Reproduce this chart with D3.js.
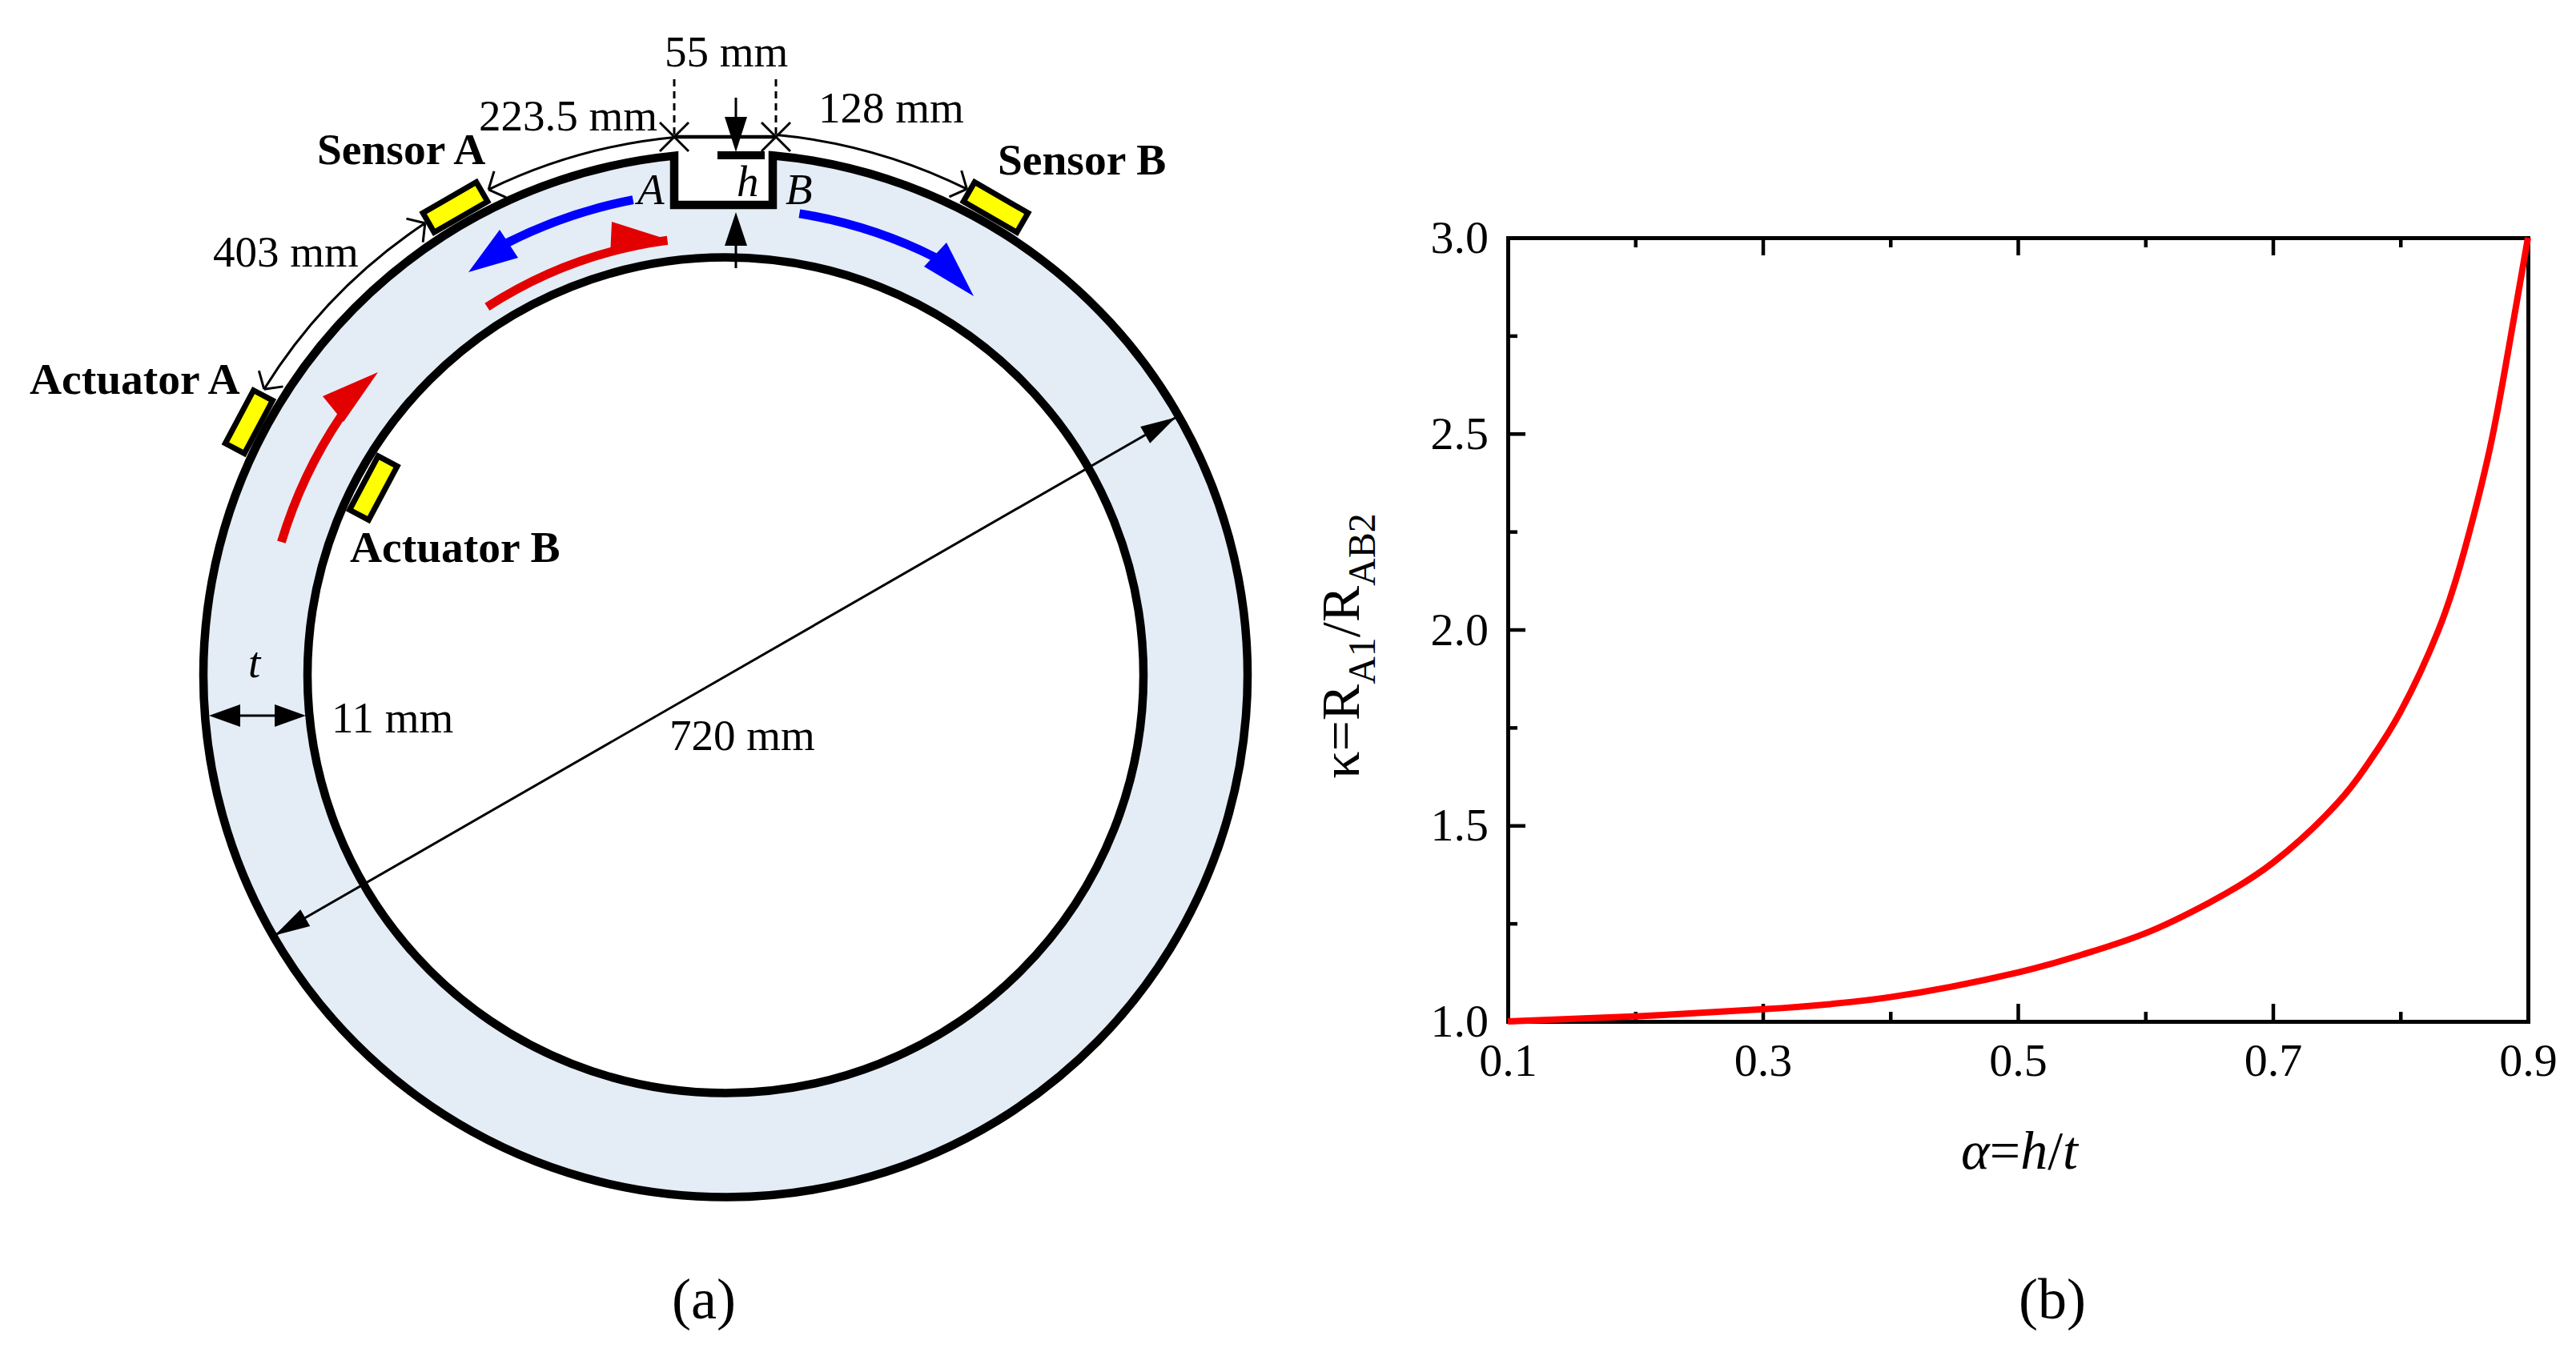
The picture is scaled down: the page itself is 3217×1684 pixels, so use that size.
<!DOCTYPE html>
<html>
<head>
<meta charset="utf-8">
<title>Ring and curve</title>
<script src="https://cdn.jsdelivr.net/npm/d3@7/dist/d3.min.js"></script>
<style>
  body { margin: 0; background: #fff; }
  text { font-family: "Liberation Serif", serif; fill: #000; }
</style>
</head>
<body>
<div id="app"></div>
<script>
// values
const alphaValues = [0.1, 0.2, 0.3, 0.4, 0.5, 0.55, 0.6, 0.65, 0.7, 0.75, 0.775, 0.8, 0.83, 0.85, 0.87, 0.885, 0.9];
const kappaValues = [1, 1.013, 1.031, 1.062, 1.125, 1.17, 1.225, 1.303, 1.405, 1.555, 1.66, 1.79, 2, 2.2, 2.46, 2.72, 3];
const xMajor = [0.1, 0.3, 0.5, 0.7, 0.9];
const xMinor = [0.2, 0.4, 0.6, 0.8];
const yMajor = [1, 1.5, 2, 2.5, 3];
const yMinor = [1.25, 1.75, 2.25, 2.75];

const W = 3217, H = 1684;
const svg = d3.select("#app").append("svg").attr("width", W).attr("height", H).style("display", "block");

// ---------- panel (a): ring diagram ----------
const cx = 906, cy = 843.5, rOuter = 652, rInner = 522;
const notch = { left: 842, right: 965, bottom: 256 };
const rad = (d) => (d - 90) * Math.PI / 180;
const polar = (r, deg) => [cx + r * Math.cos(rad(deg)), cy + r * Math.sin(rad(deg))];
const g = svg.append("g");

function arcPath(r, a0, a1) {
    const p = d3.path();
    p.arc(cx, cy, r, rad(a0), rad(a1), a1 < a0);
    return p.toString();
}

function notchTop(x) { return cy - Math.sqrt(rOuter * rOuter - (x - cx) * (x - cx)); }

const ring = d3.path();
ring.moveTo(notch.left, notchTop(notch.left));
ring.lineTo(notch.left, notch.bottom);
ring.lineTo(notch.right, notch.bottom);
ring.lineTo(notch.right, notchTop(notch.right));
ring.arc(cx, cy, rOuter, Math.atan2(notchTop(notch.right) - cy, notch.right - cx), Math.atan2(notchTop(notch.left) - cy, notch.left - cx));
ring.closePath();

g.append("path").attr("d", ring.toString()).attr("fill", "#e4ecf6").attr("stroke", "#000").attr("stroke-width", 10.5).attr("stroke-linejoin", "miter");
g.append("circle").attr("cx", cx).attr("cy", cy).attr("r", rInner).attr("fill", "#fff").attr("stroke", "#000").attr("stroke-width", 10.5);

// yellow patches
const patches = [
    { r: 675, deg: -30, w: 77, h: 28 },
    { r: 675, deg: 30, w: 77, h: 28 },
    { r: 674, deg: -62, w: 75, h: 27 },
    { r: 498, deg: -62, w: 76, h: 27 }
];
patches.forEach((s) => {
    const c = polar(s.r, s.deg);
    g.append("rect")
        .attr("x", -s.w / 2).attr("y", -s.h / 2)
        .attr("width", s.w).attr("height", s.h)
        .attr("transform", "translate(" + c[0] + "," + c[1] + ") rotate(" + s.deg + ")")
        .attr("fill", "#ffff00").attr("stroke", "#000").attr("stroke-width", 7);
});

// wave paths
const waves = [
    { color: "#e30000", r: 579, a0: -73.3, a1: -56, head: [[403, 495], [429, 527], [472, 465]] },
    { color: "#e30000", r: 548, a0: -32.9, a1: -7.6, head: [[764, 277], [762, 320], [830, 298]] },
    { color: "#0000ff", r: 605, a0: -11, a1: -26.8, head: [[624, 287], [647, 322], [585, 340]] },
    { color: "#0000ff", r: 584, a0: 9.1, a1: 26.6, head: [[1182, 303], [1154, 333], [1216, 370]] }
];
waves.forEach((w) => {
    g.append("path").attr("d", arcPath(w.r, w.a0, w.a1)).attr("fill", "none").attr("stroke", w.color).attr("stroke-width", 11);
    g.append("polygon").attr("points", w.head.map((p) => p.join(",")).join(" ")).attr("fill", w.color);
});

function line(a, b, width, dash) {
    g.append("line")
        .attr("x1", a[0]).attr("y1", a[1]).attr("x2", b[0]).attr("y2", b[1])
        .attr("stroke", "#000").attr("stroke-width", width)
        .attr("stroke-dasharray", dash || null);
}

// solid arrow head with its tip at `tip`, opening back toward `from`
function head(tip, from, len, hw) {
    const a = Math.atan2(from[1] - tip[1], from[0] - tip[0]);
    const bx = tip[0] + len * Math.cos(a), by = tip[1] + len * Math.sin(a);
    const nx = -Math.sin(a) * hw, ny = Math.cos(a) * hw;
    g.append("polygon")
        .attr("points", [tip, [bx + nx, by + ny], [bx - nx, by - ny]].map((p) => p.join(",")).join(" "))
        .attr("fill", "#000");
}

// open barbs of the thin arc dimensions
function barbs(tip, toward, len) {
    const a = Math.atan2(toward[1] - tip[1], toward[0] - tip[0]);
    [-0.85, 0.85].forEach((d) => {
        line(tip, [tip[0] + len * Math.cos(a + d), tip[1] + len * Math.sin(a + d)], 3);
    });
}

// arc dimensions over the outer edge
const dimArcs = [
    { r: 675, a0: -5.4, a1: -26 },
    { r: 678, a0: -33.6, a1: -58.2 },
    { r: 678, a0: 5.4, a1: 26.4 }
];
dimArcs.forEach((d) => {
    g.append("path").attr("d", arcPath(d.r, d.a0, d.a1)).attr("fill", "none").attr("stroke", "#000").attr("stroke-width", 3);
    const step = d.a1 > d.a0 ? -3 : 3;
    barbs(polar(d.r, d.a1), polar(d.r, d.a1 + step), 24);
});
barbs(polar(678, -33.6), polar(678, -36.6), 24);

// notch width markers
const markY = 171;
[842, 969].forEach((x) => {
    line([x, markY - 72], [x, markY], 3, "9 6");
    line([x - 18, markY - 18], [x + 18, markY + 18], 3);
    line([x - 18, markY + 18], [x + 18, markY - 18], 3);
});
line([842, markY], [969, markY], 4.5);

// depth h markers
const hx = 919;
line([hx, 122], [hx, 160], 3);
head([hx, 190], [hx, 122], 44, 14);
line([hx - 23, 194], [hx + 36, 194], 10);
line([hx, 300], [hx, 335], 3);
head([hx, 265], [hx, 335], 42, 14);

// thickness t
line([290, 894], [350, 894], 3);
head([261, 894], [382, 894], 39, 14);
head([382, 894], [261, 894], 39, 14);

// diameter
const dTop = polar(648, 60.2), dBottom = polar(650, 240);
line(dTop, dBottom, 3);
head(dTop, dBottom, 44, 12);
head(dBottom, dTop, 44, 12);

// diagram text
const labels = [
    { t: "55 mm", x: 830, y: 83 },
    { t: "128 mm", x: 1022, y: 153 },
    { t: "223.5 mm", x: 598, y: 163 },
    { t: "403 mm", x: 266, y: 333 },
    { t: "11 mm", x: 414, y: 915 },
    { t: "720 mm", x: 836, y: 937 },
    { t: "Sensor A", x: 396, y: 205, weight: "bold" },
    { t: "Sensor B", x: 1246, y: 218, weight: "bold" },
    { t: "Actuator A", x: 37, y: 492, weight: "bold" },
    { t: "Actuator B", x: 437, y: 702, weight: "bold" },
    { t: "A", x: 796, y: 255, italic: true },
    { t: "B", x: 981, y: 255, italic: true },
    { t: "h", x: 920, y: 245, italic: true },
    { t: "t", x: 310, y: 846, italic: true }
];
labels.forEach((l) => {
    g.append("text").attr("x", l.x).attr("y", l.y)
        .attr("font-size", l.weight ? 55.5 : 55)
        .attr("font-weight", l.weight || "normal")
        .attr("font-style", l.italic ? "italic" : "normal")
        .attr("fill", l.italic ? "#222" : "#000")
        .text(l.t);
});
g.append("text").attr("x", 879).attr("y", 1647).attr("font-size", 72).attr("text-anchor", "middle").text("(a)");

// ---------- panel (b): kappa curve ----------
const plot = { left: 1883, right: 3157, top: 297, bottom: 1276 };
const x = d3.scaleLinear().domain([0.1, 0.9]).range([plot.left, plot.right]);
const y = d3.scaleLinear().domain([1, 3]).range([plot.bottom, plot.top]);
const fmt = d3.format(".1f");
const axisW = 5, tickW = 4.5, majorLen = 22, minorLen = 12;

function styleAxis(sel, fontSize) {
    sel.selectAll("path").attr("stroke", "#000").attr("stroke-width", axisW);
    sel.selectAll("line").attr("stroke", "#000").attr("stroke-width", tickW);
    sel.selectAll("text").attr("font-size", fontSize).attr("font-family", "Liberation Serif").attr("fill", "#000");
}

// major + minor ticks: minor ones drawn as a second, unlabelled axis
const bottom = svg.append("g").attr("transform", "translate(0," + plot.bottom + ")");
bottom.append("g").call(d3.axisBottom(x).tickValues(xMinor).tickSize(-minorLen).tickFormat(""));
const bottomMajor = bottom.append("g").call(d3.axisBottom(x).tickValues(xMajor).tickSize(-majorLen).tickSizeOuter(0).tickPadding(56).tickFormat(fmt));
styleAxis(bottom, 58);
bottomMajor.selectAll("text").attr("dy", "0.2em");

const topAxis = svg.append("g").attr("transform", "translate(0," + plot.top + ")");
topAxis.append("g").call(d3.axisTop(x).tickValues(xMinor).tickSize(-minorLen).tickFormat(""));
topAxis.append("g").call(d3.axisTop(x).tickValues(xMajor).tickSize(-majorLen).tickSizeOuter(0).tickFormat(""));
styleAxis(topAxis, 58);

const left = svg.append("g").attr("transform", "translate(" + plot.left + ",0)");
left.append("g").call(d3.axisLeft(y).tickValues(yMinor).tickSize(-minorLen).tickFormat(""));
left.append("g").call(d3.axisLeft(y).tickValues(yMajor).tickSize(-majorLen).tickSizeOuter(0).tickPadding(24).tickFormat(fmt));
styleAxis(left, 58);

const right = svg.append("g").attr("transform", "translate(" + plot.right + ",0)");
right.call(d3.axisRight(y).tickValues([]).tickSizeOuter(0));
styleAxis(right, 58);

const curve = d3.line()
    .x((d, i) => x(alphaValues[i]))
    .y((d) => y(d))
    .curve(d3.curveNatural);

svg.append("path")
    .attr("d", curve(kappaValues))
    .attr("fill", "none")
    .attr("stroke", "#ff0000")
    .attr("stroke-width", 8);

// axis titles
const xTitle = svg.append("text").attr("x", 2522).attr("y", 1460).attr("font-size", 68).attr("text-anchor", "middle");
xTitle.append("tspan").attr("font-style", "italic").text("α");
xTitle.append("tspan").text("=");
xTitle.append("tspan").attr("font-style", "italic").text("h");
xTitle.append("tspan").text("/");
xTitle.append("tspan").attr("font-style", "italic").text("t");

const yTitle = svg.append("text")
    .attr("transform", "translate(1697,807) rotate(-90)")
    .attr("font-size", 68)
    .attr("text-anchor", "middle");
yTitle.append("tspan").text("κ=R");
yTitle.append("tspan").attr("font-size", 48).attr("dy", 20).text("A1");
yTitle.append("tspan").attr("dy", -20).text("/R");
yTitle.append("tspan").attr("font-size", 48).attr("dy", 20).text("AB2");

svg.append("text").attr("x", 2563).attr("y", 1647).attr("font-size", 72).attr("text-anchor", "middle").text("(b)");
</script>
</body>
</html>
